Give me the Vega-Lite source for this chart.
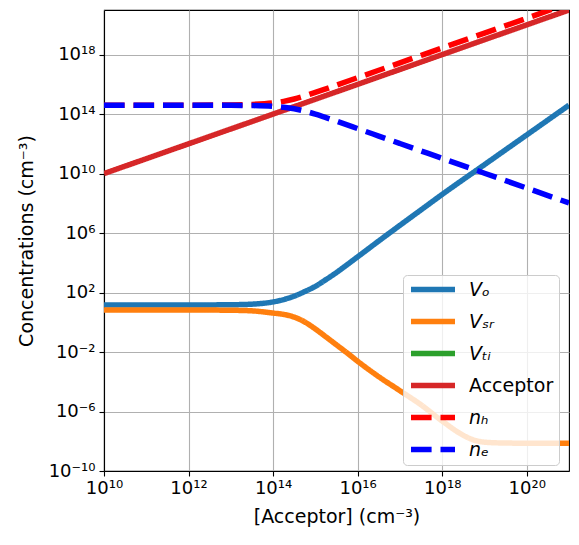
{
  "$schema": "https://vega.github.io/schema/vega-lite/v6.json",
  "width": 465,
  "height": 461,
  "autosize": {"type": "none"},
  "padding": {"left": 104, "top": 10, "right": 10, "bottom": 74},
  "config": {
    "font": "DejaVu Sans",
    "view": {"stroke": "black", "strokeWidth": 1.1},
    "axis": {
      "domainColor": "black", "domainWidth": 1.1,
      "tickColor": "black", "tickSize": 5, "tickWidth": 1.1,
      "labelFont": "DejaVu Sans", "labelFontSize": 18, "labelColor": "black",
      "titleFont": "DejaVu Sans", "titleFontSize": 19, "titleFontWeight": "normal", "titleColor": "black",
      "gridColor": "#b0b0b0", "gridWidth": 1.1, "gridOpacity": 1
    }
  },
  "data": {"values": [
    {"a": 1e10, "c": 14.79, "s": "Vₒ"},
    {"a": 1e11, "c": 14.79, "s": "Vₒ"},
    {"a": 1e12, "c": 14.79, "s": "Vₒ"},
    {"a": 3.162e12, "c": 14.79, "s": "Vₒ"},
    {"a": 1e13, "c": 15.14, "s": "Vₒ"},
    {"a": 3.162e13, "c": 16.6, "s": "Vₒ"},
    {"a": 1e14, "c": 23.44, "s": "Vₒ"},
    {"a": 1.778e14, "c": 33.88, "s": "Vₒ"},
    {"a": 3.162e14, "c": 57.54, "s": "Vₒ"},
    {"a": 5.623e14, "c": 117.5, "s": "Vₒ"},
    {"a": 1e15, "c": 263.0, "s": "Vₒ"},
    {"a": 1.778e15, "c": 741.3, "s": "Vₒ"},
    {"a": 3.162e15, "c": 2239, "s": "Vₒ"},
    {"a": 5.623e15, "c": 7413, "s": "Vₒ"},
    {"a": 1e16, "c": 25119, "s": "Vₒ"},
    {"a": 3.162e16, "c": 2.951e5, "s": "Vₒ"},
    {"a": 1e17, "c": 3.311e6, "s": "Vₒ"},
    {"a": 3.162e17, "c": 3.631e7, "s": "Vₒ"},
    {"a": 1e18, "c": 3.981e8, "s": "Vₒ"},
    {"a": 1e19, "c": 3.981e10, "s": "Vₒ"},
    {"a": 1e20, "c": 3.981e12, "s": "Vₒ"},
    {"a": 1e21, "c": 3.981e14, "s": "Vₒ"},

    {"a": 1e10, "c": 6.607, "s": "Vₛᵣ"},
    {"a": 1e11, "c": 6.607, "s": "Vₛᵣ"},
    {"a": 1e12, "c": 6.607, "s": "Vₛᵣ"},
    {"a": 3.162e12, "c": 6.607, "s": "Vₛᵣ"},
    {"a": 1e13, "c": 6.457, "s": "Vₛᵣ"},
    {"a": 3.162e13, "c": 5.888, "s": "Vₛᵣ"},
    {"a": 1e14, "c": 4.169, "s": "Vₛᵣ"},
    {"a": 1.778e14, "c": 3.388, "s": "Vₛᵣ"},
    {"a": 3.162e14, "c": 2.239, "s": "Vₛᵣ"},
    {"a": 5.623e14, "c": 1.047, "s": "Vₛᵣ"},
    {"a": 1e15, "c": 0.3548, "s": "Vₛᵣ"},
    {"a": 1.778e15, "c": 0.1047, "s": "Vₛᵣ"},
    {"a": 3.162e15, "c": 0.0302, "s": "Vₛᵣ"},
    {"a": 5.623e15, "c": 0.00871, "s": "Vₛᵣ"},
    {"a": 1e16, "c": 0.002399, "s": "Vₛᵣ"},
    {"a": 3.162e16, "c": 2.188e-4, "s": "Vₛᵣ"},
    {"a": 1e17, "c": 2.512e-5, "s": "Vₛᵣ"},
    {"a": 3.162e17, "c": 2.818e-6, "s": "Vₛᵣ"},
    {"a": 1e18, "c": 2.291e-7, "s": "Vₛᵣ"},
    {"a": 3.162e18, "c": 2.512e-8, "s": "Vₛᵣ"},
    {"a": 5.623e18, "c": 1.202e-8, "s": "Vₛᵣ"},
    {"a": 1e19, "c": 8.71e-9, "s": "Vₛᵣ"},
    {"a": 3.162e19, "c": 7.586e-9, "s": "Vₛᵣ"},
    {"a": 1e20, "c": 7.413e-9, "s": "Vₛᵣ"},
    {"a": 1e21, "c": 7.413e-9, "s": "Vₛᵣ"},

    {"a": 1e10, "c": 1e10, "s": "Acceptor"},
    {"a": 1e21, "c": 1e21, "s": "Acceptor"},

    {"a": 1e10, "c": 3.981e14, "s": "nₕ"},
    {"a": 1e12, "c": 3.995e14, "s": "nₕ"},
    {"a": 1e13, "c": 4.122e14, "s": "nₕ"},
    {"a": 3.162e13, "c": 4.446e14, "s": "nₕ"},
    {"a": 1e14, "c": 5.62e14, "s": "nₕ"},
    {"a": 1.778e14, "c": 7.185e14, "s": "nₕ"},
    {"a": 3.162e14, "c": 1.038e15, "s": "nₕ"},
    {"a": 5.623e14, "c": 1.67e15, "s": "nₕ"},
    {"a": 1e15, "c": 2.856e15, "s": "nₕ"},
    {"a": 1.778e15, "c": 5.01e15, "s": "nₕ"},
    {"a": 3.162e15, "c": 8.87e15, "s": "nₕ"},
    {"a": 1e16, "c": 2.801e16, "s": "nₕ"},
    {"a": 3.162e16, "c": 8.85e16, "s": "nₕ"},
    {"a": 1e17, "c": 2.8e17, "s": "nₕ"},
    {"a": 1e18, "c": 2.8e18, "s": "nₕ"},
    {"a": 1e19, "c": 2.8e19, "s": "nₕ"},
    {"a": 1e20, "c": 2.8e20, "s": "nₕ"},
    {"a": 1e21, "c": 2.8e21, "s": "nₕ"},

    {"a": 1e10, "c": 3.981e14, "s": "nₑ"},
    {"a": 1e12, "c": 3.973e14, "s": "nₑ"},
    {"a": 1e13, "c": 3.906e14, "s": "nₑ"},
    {"a": 3.162e13, "c": 3.751e14, "s": "nₑ"},
    {"a": 1e14, "c": 3.301e14, "s": "nₑ"},
    {"a": 1.778e14, "c": 2.865e14, "s": "nₑ"},
    {"a": 3.162e14, "c": 2.262e14, "s": "nₑ"},
    {"a": 5.623e14, "c": 1.582e14, "s": "nₑ"},
    {"a": 1e15, "c": 9.91e13, "s": "nₑ"},
    {"a": 1.778e15, "c": 5.82e13, "s": "nₑ"},
    {"a": 3.162e15, "c": 3.319e13, "s": "nₑ"},
    {"a": 1e16, "c": 1.056e13, "s": "nₑ"},
    {"a": 3.162e16, "c": 3.342e12, "s": "nₑ"},
    {"a": 1e17, "c": 1.057e12, "s": "nₑ"},
    {"a": 1e18, "c": 1.057e11, "s": "nₑ"},
    {"a": 1e19, "c": 1.057e10, "s": "nₑ"},
    {"a": 1e20, "c": 1.057e9, "s": "nₑ"},
    {"a": 1e21, "c": 1.057e8, "s": "nₑ"}
  ]},
  "mark": {"type": "line", "strokeWidth": 5.5, "clip": true, "interpolate": "monotone"},
  "encoding": {
    "x": {
      "field": "a", "type": "quantitative",
      "scale": {"type": "log", "domain": [1e10, 1e21], "nice": false},
      "axis": {
        "title": "[Acceptor] (cm⁻³)",
        "values": [1e10, 1e12, 1e14, 1e16, 1e18, 1e20],
        "labelExpr": "'10' + replace(replace(replace(replace(replace(replace(replace(replace(replace(replace(replace('' + round(log(datum.value)/LN10), regexp('-','g'), '⁻'), regexp('0','g'), '⁰'), regexp('1','g'), '¹'), regexp('2','g'), '²'), regexp('3','g'), '³'), regexp('4','g'), '⁴'), regexp('5','g'), '⁵'), regexp('6','g'), '⁶'), regexp('7','g'), '⁷'), regexp('8','g'), '⁸'), regexp('9','g'), '⁹')",
        "labelFlush": false, "labelOverlap": false, "labelPadding": 3, "titlePadding": 10
      }
    },
    "y": {
      "field": "c", "type": "quantitative",
      "scale": {"type": "log", "domain": [1e-10, 1e21], "nice": false},
      "axis": {
        "title": "Concentrations (cm⁻³)",
        "values": [1e-10, 1e-6, 1e-2, 1e2, 1e6, 1e10, 1e14, 1e18],
        "labelExpr": "'10' + replace(replace(replace(replace(replace(replace(replace(replace(replace(replace(replace('' + round(log(datum.value)/LN10), regexp('-','g'), '⁻'), regexp('0','g'), '⁰'), regexp('1','g'), '¹'), regexp('2','g'), '²'), regexp('3','g'), '³'), regexp('4','g'), '⁴'), regexp('5','g'), '⁵'), regexp('6','g'), '⁶'), regexp('7','g'), '⁷'), regexp('8','g'), '⁸'), regexp('9','g'), '⁹')",
        "labelFlush": false, "labelOverlap": false, "labelPadding": 4, "titlePadding": 12
      }
    },
    "color": {
      "field": "s", "type": "nominal",
      "scale": {
        "domain": ["Vₒ", "Vₛᵣ", "Vₜᵢ", "Acceptor", "nₕ", "nₑ"],
        "range": ["#1f77b4", "#ff7f0e", "#2ca02c", "#d62728", "#ff0000", "#0000ff"]
      },
      "legend": {
        "title": null, "orient": "none", "legendX": 299, "legendY": 265,
        "symbolType": "stroke", "symbolSize": 1936, "symbolStrokeWidth": 5.5,
        "clipHeight": 19,
        "labelFontSize": 19, "labelColor": "black", "labelOffset": 11,
        "rowPadding": 12, "padding": 5,
        "fillColor": "rgba(255,255,255,0.8)", "strokeColor": "#cccccc", "cornerRadius": 4,
        "encode": {"labels": {"update": {"fontStyle": {"signal": "datum.value == 'Acceptor' ? 'normal' : 'italic'"}}}}
      }
    },
    "strokeDash": {
      "field": "s", "type": "nominal",
      "scale": {
        "domain": ["Vₒ", "Vₛᵣ", "Vₜᵢ", "Acceptor", "nₕ", "nₑ"],
        "range": [[1, 0], [1, 0], [1, 0], [1, 0], [20.6, 8.9], [20.6, 8.9]]
      },
      "legend": {
        "title": null, "orient": "none", "legendX": 299, "legendY": 265,
        "symbolType": "stroke", "symbolSize": 1936, "symbolStrokeWidth": 5.5,
        "clipHeight": 19,
        "labelFontSize": 19, "labelColor": "black", "labelOffset": 11,
        "rowPadding": 12, "padding": 5,
        "fillColor": "rgba(255,255,255,0.8)", "strokeColor": "#cccccc", "cornerRadius": 4,
        "encode": {"labels": {"update": {"fontStyle": {"signal": "datum.value == 'Acceptor' ? 'normal' : 'italic'"}}}}
      }
    }
  }
}
